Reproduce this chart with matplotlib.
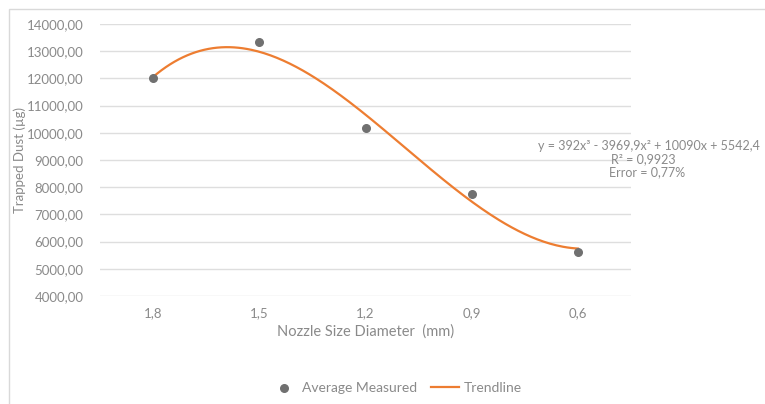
import numpy as np
import matplotlib
matplotlib.use("Agg")
import matplotlib.pyplot as plt
from matplotlib.patches import Rectangle

# nozzle size categories (mm) and measured trapped dust (ug)
nozzle_labels = ["1,8", "1,5", "1,2", "0,9", "0,6"]
avg_measured = [12000, 13340, 10180, 7735, 5630]

# Excel polynomial trendline (order 3), x = category index 1..5
trend_coef = [392, -3969.9, 10090, 5542.4]

y_ticks = [4000, 5000, 6000, 7000, 8000, 9000, 10000, 11000, 12000, 13000, 14000]

plt.rcParams['font.family'] = ['Lato', 'DejaVu Sans']
text_col = "#8a8a8a"

fig = plt.figure(figsize=(7.65, 4.04), dpi=100)
ax = fig.add_axes([100/765, 1 - 296/404, 531/765, 272/404])

# outer chart border (Excel chart area)
fig.patches.append(Rectangle((9/765, -0.05), 1.1, 1 - 9/404 + 0.05, transform=fig.transFigure,
                             fill=False, edgecolor="#d9d9d9", linewidth=1.0))

x = np.arange(1, len(nozzle_labels) + 1)
xs = np.linspace(1, len(nozzle_labels), 200)
trend = np.polyval(trend_coef, xs)

line, = ax.plot(xs, trend, color="#ED7D31", linewidth=1.6, label="Trendline", zorder=3)
pts = ax.scatter(x, avg_measured, s=30, color="#707070", label="Average Measured", zorder=4)

ax.set_xlim(0.5, len(nozzle_labels) + 0.5)
ax.set_ylim(4000, 14000)
ax.set_xticks(x)
ax.set_xticklabels(nozzle_labels)
ax.set_yticks(y_ticks)
ax.set_yticklabels([f"{v},00" for v in y_ticks])
ax.tick_params(length=0, colors=text_col, labelsize=9.5, pad=8)
ax.tick_params(axis='y', pad=12)
for s in ax.spines.values():
    s.set_visible(False)
ax.grid(axis='y', color="#dedede", linewidth=1.0)
ax.set_axisbelow(True)

ax.set_xlabel("Nozzle Size Diameter  (mm)", color=text_col, fontsize=10.5, labelpad=4)
fig.text(20/765, 1 - 160/404, "Trapped Dust (µg)", rotation=90, color=text_col,
         fontsize=9.5, ha='center', va='center')

# trendline equation
fig.text(649/765, 1 - 146/404, "y = 392x³ - 3969,9x² + 10090x + 5542,4", color=text_col,
         fontsize=9, ha='center', va='center')
fig.text(643/765, 1 - 159/404, "R² = 0,9923", color=text_col, fontsize=9, ha='center', va='center')
fig.text(647/765, 1 - 172/404, "Error = 0,77%", color=text_col, fontsize=9, ha='center', va='center')

leg = fig.legend([pts, line], ["Average Measured", "Trendline"], loc='center',
                 bbox_to_anchor=(396/765, 1 - 388/404), ncol=2, frameon=False,
                 fontsize=10, handlelength=2.0, columnspacing=1.0, handletextpad=0.3)
for t in leg.get_texts():
    t.set_color(text_col)

fig.savefig("out.png", dpi=100)
